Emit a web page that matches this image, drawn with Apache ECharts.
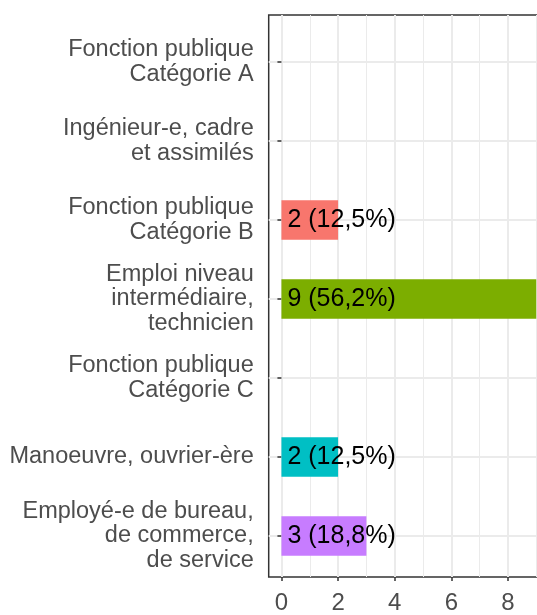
<!DOCTYPE html>
<html>
<head>
<meta charset="utf-8">
<script src="https://cdn.jsdelivr.net/npm/echarts@6/dist/echarts.min.js"></script>
<style>
  html, body { margin: 0; padding: 0; background: #fff; overflow: hidden; }
  #chart { width: 560px; height: 615px; }
</style>
</head>
<body>
<div id="chart"></div>
<script>
const categories = [
  "Fonction publique\nCatégorie A",
  "Ingénieur-e, cadre\net assimilés",
  "Fonction publique\nCatégorie B",
  "Emploi niveau\nintermédiaire,\ntechnicien",
  "Fonction publique\nCatégorie C",
  "Manoeuvre, ouvrier-ère",
  "Employé-e de bureau,\nde commerce,\nde service"
];
const counts = [0, 0, 2, 9, 0, 2, 3];
const pctLabels = ["", "", "12,5", "56,2", "", "12,5", "18,8"];
const barColors = ["#F8766D", "#F8766D", "#F8766D", "#7CAE00", "#7CAE00", "#00BFC4", "#C77CFF"];
const xTicks = [0, 2, 4, 6, 8];
const xGrid = [0, 1, 2, 3, 4, 5, 6, 7, 8, 9];

const font = "Liberation Sans, Arial, sans-serif";
const chart = echarts.init(document.getElementById("chart"));

const option = {
  animation: false,
  backgroundColor: "#fff",
  grid: [
    { left: 268.7, width: 280.3, top: 15, bottom: 32, show: true, borderColor: "#333", borderWidth: 1.5, backgroundColor: "transparent" },
    { left: 268.7, width: 280.3, top: 62, bottom: 79 }
  ],
  xAxis: [
    {
      gridIndex: 0, type: "value", min: -0.45, max: 9.45,
      axisLine: { show: false },
      axisTick: { show: true, length: 4, customValues: xTicks, lineStyle: { color: "#333", width: 1.5 } },
      axisLabel: { customValues: xTicks, color: "#4D4D4D", fontSize: 24, fontFamily: font, margin: 14 },
      splitLine: { show: false }
    },
    {
      gridIndex: 1, type: "value", min: -0.45, max: 9.45, show: false, splitLine: { show: false }
    }
  ],
  yAxis: [
    { gridIndex: 0, type: "value", min: 0, max: 1, show: false },
    {
      gridIndex: 1, type: "category", data: categories, inverse: true, boundaryGap: false,
      axisLine: { show: false },
      axisTick: { show: true, length: 4, lineStyle: { color: "#333", width: 1.5 } },
      axisLabel: { color: "#4D4D4D", fontSize: 23.5, lineHeight: 24.5, fontFamily: font, margin: 15, align: "right", padding: [4, 0, 0, 0] },
      splitLine: { show: true, lineStyle: { color: "#EBEBEB", width: 2 } }
    }
  ],
  series: [
    {
      type: "line", xAxisIndex: 0, yAxisIndex: 0, data: [], z: 0, silent: true,
      markLine: {
        silent: true, symbol: "none", z: 0, label: { show: false },
        data: xGrid.map(v => ({
          xAxis: v,
          lineStyle: { color: "#EBEBEB", type: "solid", width: v % 2 === 0 ? 2 : 1 }
        }))
      }
    },
    {
      type: "bar", xAxisIndex: 1, yAxisIndex: 1, barWidth: 39.5, clip: false, z: 3,
      data: counts.map((v, i) => ({ value: v, itemStyle: { color: barColors[i] } })),
      label: {
        show: true, position: "insideLeft", distance: 6, color: "#000", fontSize: 25, fontFamily: font,
        formatter: p => counts[p.dataIndex] > 0 ? counts[p.dataIndex] + " (" + pctLabels[p.dataIndex] + "%)" : ""
      }
    }
  ]
};
chart.setOption(option);
</script>
</body>
</html>
